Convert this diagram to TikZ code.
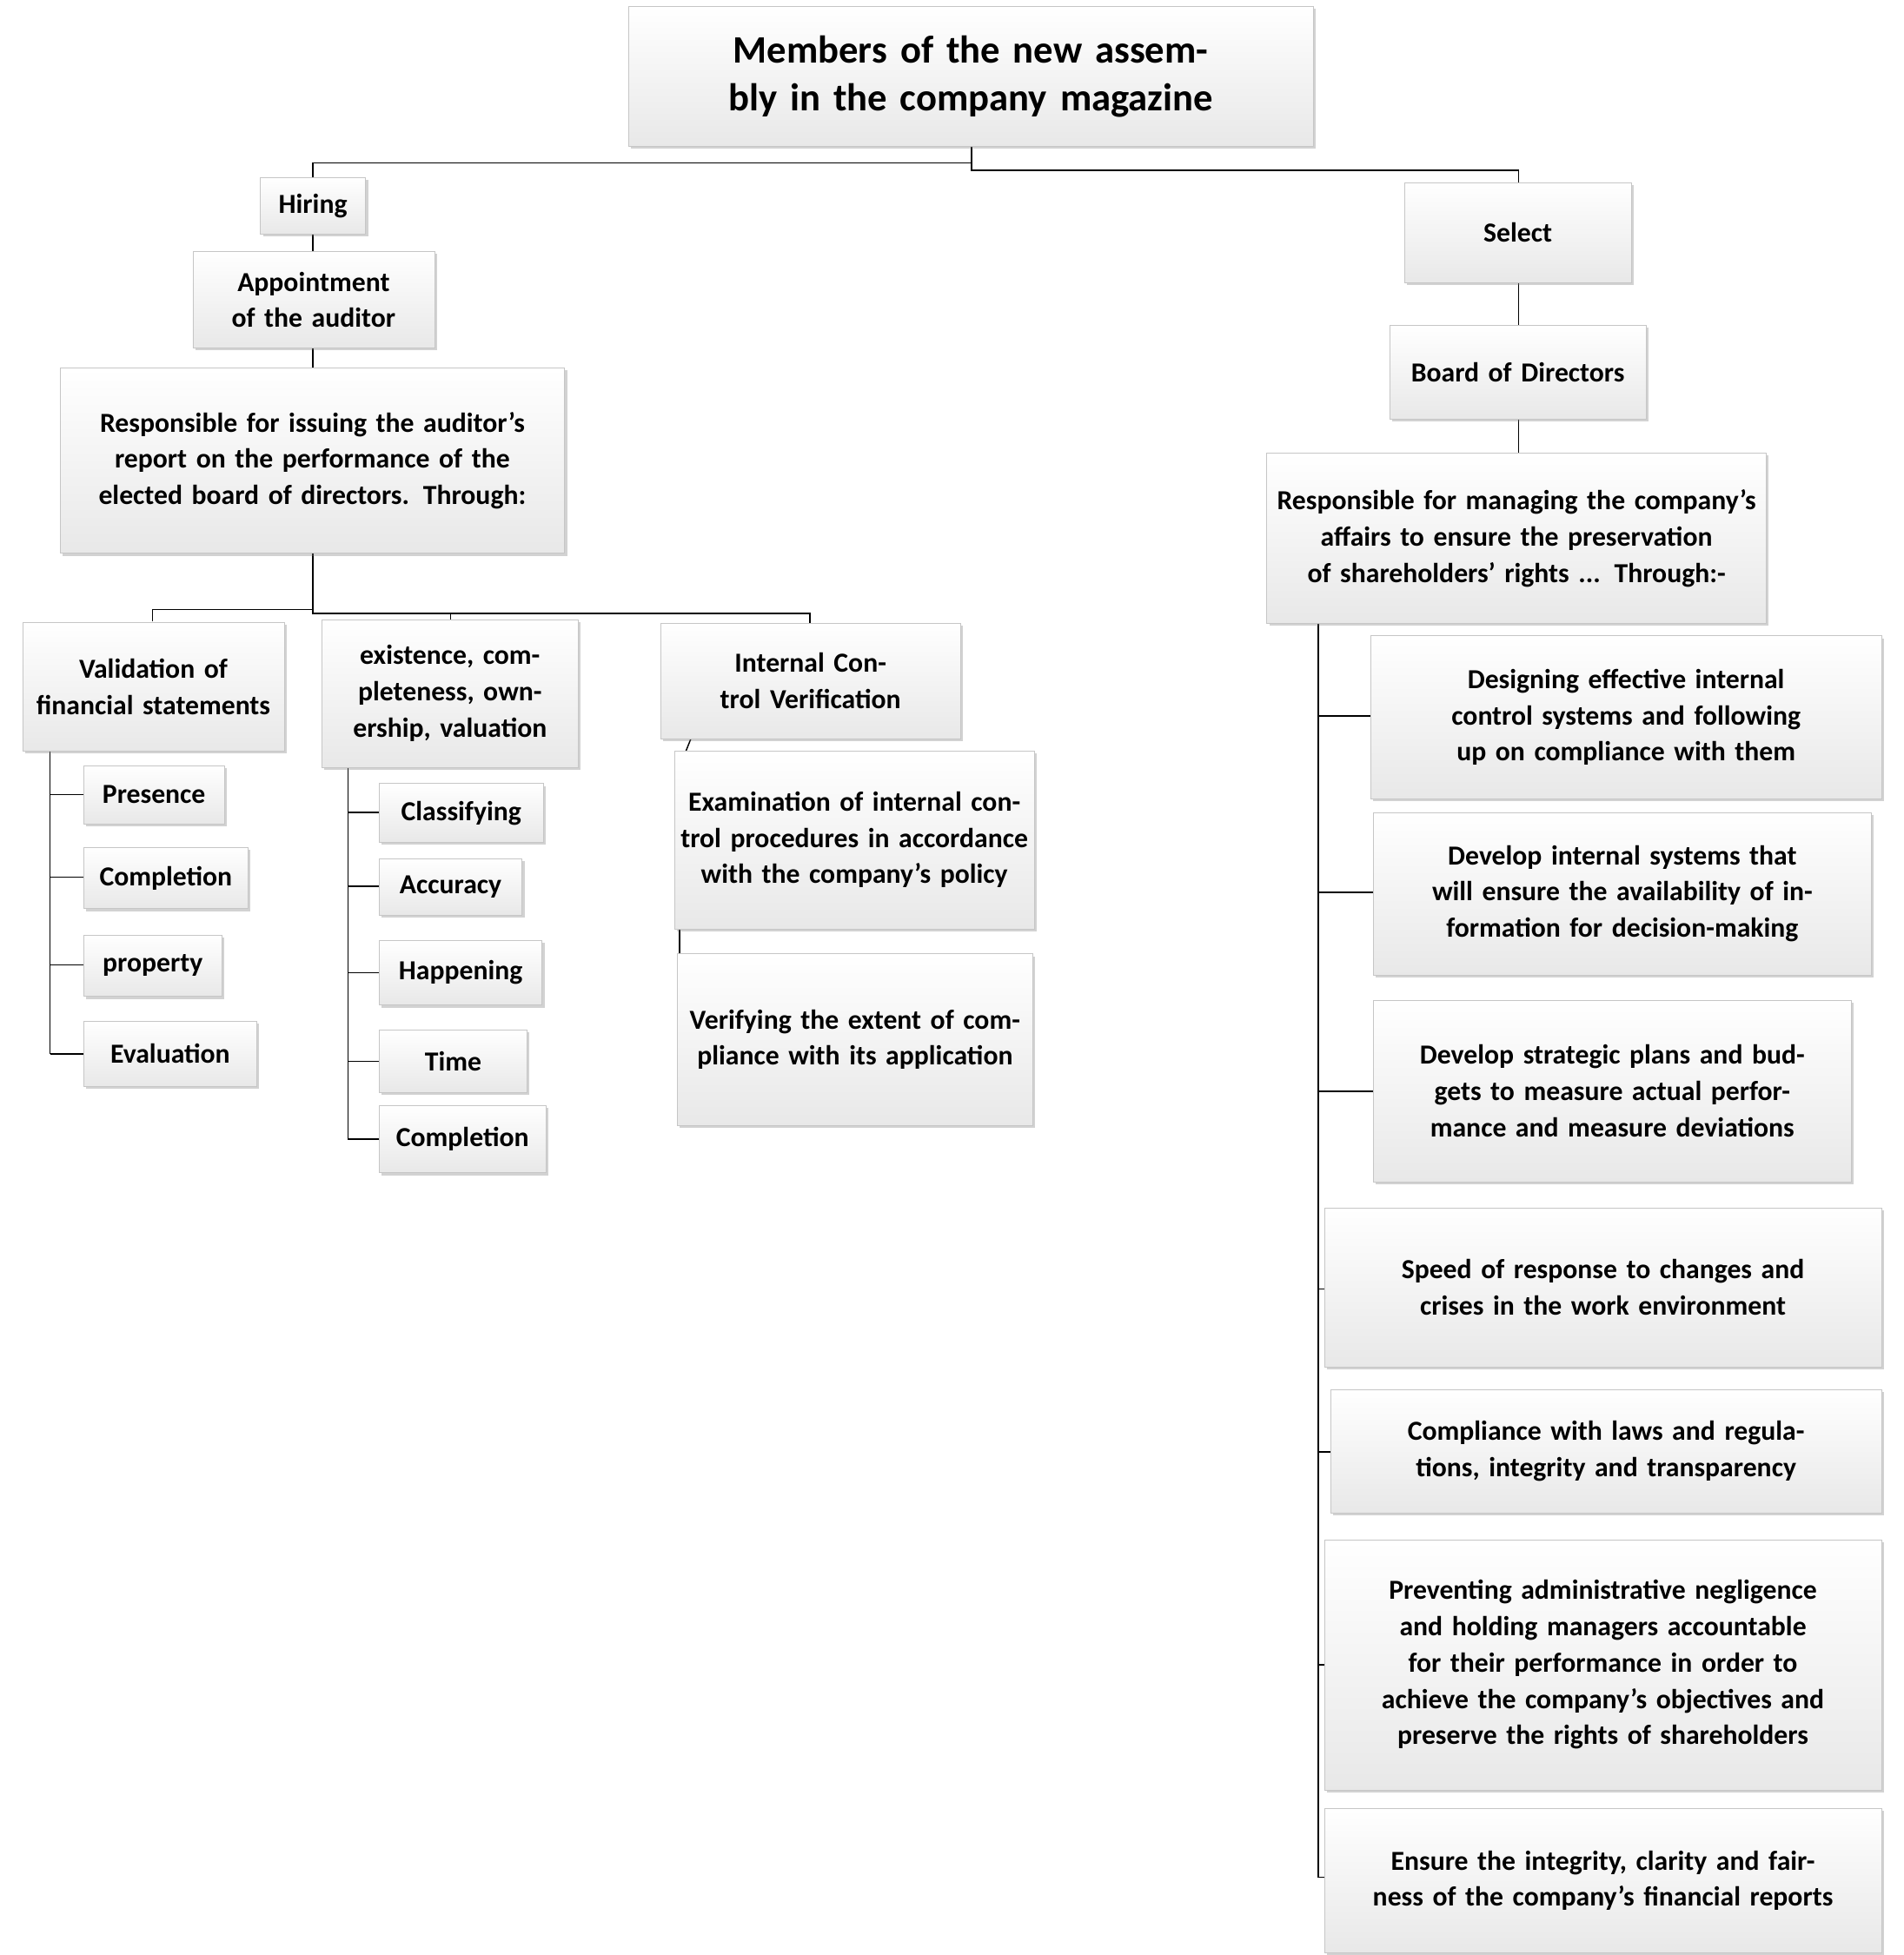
\documentclass[tikz,border=0pt]{standalone}
\usepackage{fontspec}
\setmainfont{Carlito}
\usetikzlibrary{shadows}
\tikzset{box/.style={draw=gray!45,top color=white,bottom color=gray!18,drop shadow={shadow xshift=2pt,shadow yshift=-2pt,opacity=0.35},align=center,inner sep=0pt,font=\bfseries\fontsize{22}{29}\selectfont},
ln/.style={draw=black,line width=1pt}}
\newcommand\bx[6]{\node[box,minimum width={(#4-#2)*1pt},minimum height={(#5-#3)*1pt},text width={(#4-#2-8)*1pt}] (#1) at ({(#2+#4)/2},{(#3+#5)/2}) {#6};}
\begin{document}
\begin{tikzpicture}[x=1pt,y=-1pt]
\useasboundingbox[fill=white] (0,0) rectangle (1521,1562);
% connectors first
\coordinate (t0) at (776,117); \coordinate (t1) at (776,130); \coordinate (t2) at (776,136);
\draw[ln] (t0)--(t1)-|(250,142);
\draw[ln] (t1)--(t2)-|(1213,146);
\draw[ln] (250,187)--(250,201);
\draw[ln] (250,278)--(250,294);
\draw[ln] (250,442)--(250,487)-|(122,497);
\draw[ln] (250,487)--(250,490)-|(647,498);
\draw[ln] (360,490)--(360,495);
\draw[ln] (40,600)--(40,842);
\foreach \y/\x in {635/67,701/67,771/67,842/67}{\draw[ln] (40,\y)--(\x,\y);}
\draw[ln] (278,613)--(278,910);
\foreach \y in {649,708,777,848,910}{\draw[ln] (278,\y)--(303,\y);}
\draw[ln] (552,590)--(548,600);
\draw[ln] (543,742)--(543,762);
\draw[ln] (1213,226)--(1213,260);
\draw[ln] (1213,335)--(1213,362);
\draw[ln] (1053,498)--(1053,1500);
\foreach \y/\x in {572/1095,713/1097,872/1097,1030/1058,1160/1063,1330/1058,1500/1058}{\draw[ln] (1053,\y)--(\x,\y);}
% boxes
\node[box,font=\bfseries\fontsize{31}{38}\selectfont,minimum width=547pt,minimum height=112pt,text width=540pt] (title) at (775.5,61) {Members of the new assembly in the company magazine};
\bx{hir}{208}{142}{292}{187}{Hiring}
\bx{app}{154}{201}{347}{278}{Appointment of the auditor}
\bx{rl}{48}{294}{451}{442}{Responsible for issuing the auditor's report on the performance of the elected board of directors. Through:}
\bx{val}{18}{497}{227}{600}{Validation of financial statements}
\bx{ex}{257}{495}{462}{613}{existence, completeness, ownership, valuation}
\bx{icv}{528}{498}{767}{590}{Internal Control Verification}
\bx{p1}{67}{612}{179}{658}{Presence}
\bx{p2}{67}{677}{198}{726}{Completion}
\bx{p3}{67}{747}{177}{796}{property}
\bx{p4}{67}{816}{205}{868}{Evaluation}
\bx{c1}{303}{626}{434}{673}{Classifying}
\bx{c2}{303}{686}{417}{731}{Accuracy}
\bx{c3}{303}{751}{433}{803}{Happening}
\bx{c4}{303}{823}{421}{873}{Time}
\bx{c5}{303}{883}{436}{937}{Completion}
\bx{e1}{539}{600}{826}{742}{Examination of internal control procedures in accordance with the company's policy}
\bx{e2}{541}{762}{825}{899}{Verifying the extent of compliance with its application}
\bx{sel}{1122}{146}{1303}{226}{Select}
\bx{bod}{1110}{260}{1315}{335}{Board of Directors}
\bx{rr}{1012}{362}{1411}{498}{Responsible for managing the company's affairs to ensure the preservation of shareholders' rights ... Through:-}
\bx{d1}{1095}{508}{1503}{638}{Designing effective internal control systems and following up on compliance with them}
\bx{d2}{1097}{649}{1495}{779}{Develop internal systems that will ensure the availability of information for decision-making}
\bx{d3}{1097}{799}{1479}{944}{Develop strategic plans and budgets to measure actual performance and measure deviations}
\bx{d4}{1058}{965}{1503}{1092}{Speed of response to changes and crises in the work environment}
\bx{d5}{1063}{1110}{1503}{1209}{Compliance with laws and regulations, integrity and transparency}
\bx{d6}{1058}{1230}{1503}{1430}{Preventing administrative negligence and holding managers accountable for their performance in order to achieve the company's objectives and preserve the rights of shareholders}
\bx{d7}{1058}{1445}{1503}{1560}{Ensure the integrity, clarity and fairness of the company's financial reports}
\end{tikzpicture}
\end{document}
